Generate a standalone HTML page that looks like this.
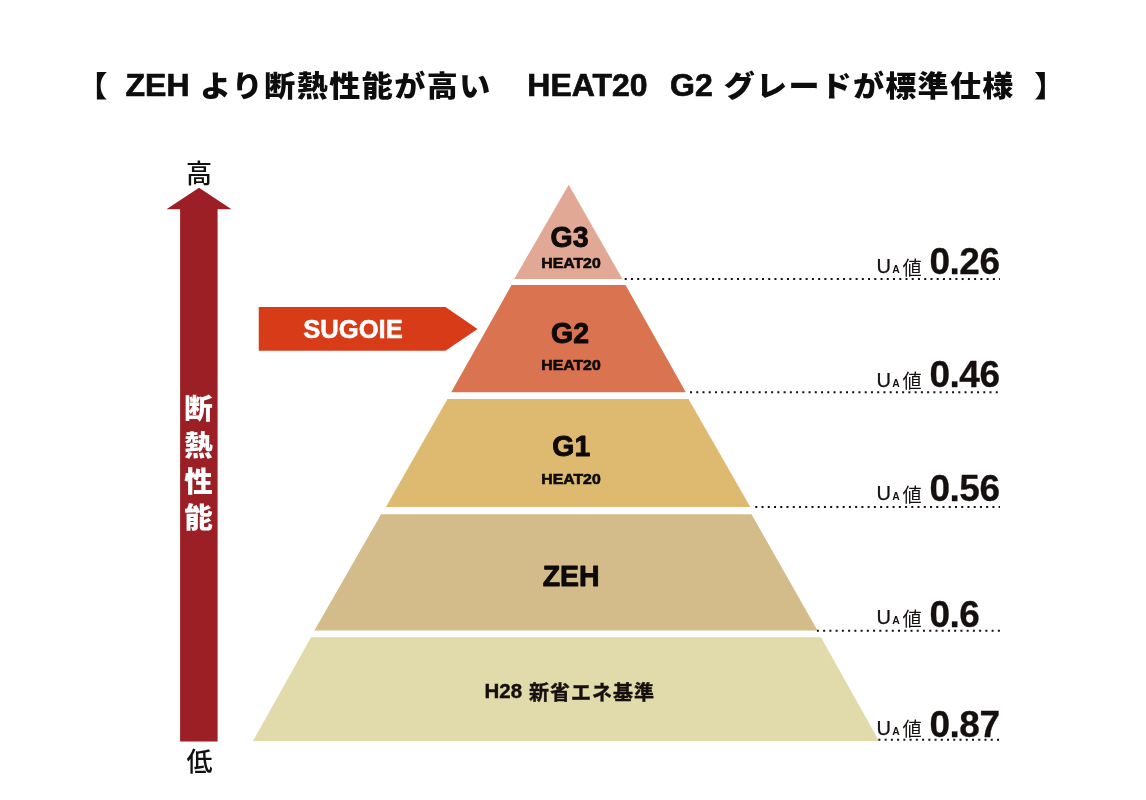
<!DOCTYPE html>
<html lang="ja">
<head>
<meta charset="utf-8">
<title>ZEH より断熱性能が高い HEAT20 G2 グレードが標準仕様</title>
<style>
html,body{margin:0;padding:0;background:#fff;}
body{width:1146px;height:800px;overflow:hidden;position:relative;}
svg{display:block;position:absolute;left:0;top:0;}
text{font-family:"Liberation Sans","Noto Sans CJK JP",sans-serif;fill:#150f0d;}
.ttl{font-weight:700;font-size:32px;fill:#0d0d0d;stroke:#0d0d0d;stroke-width:0.7px;}
.ttlb{font-weight:900;font-size:29px;fill:#0d0d0d;}
.ttlj{font-weight:900;font-size:29px;letter-spacing:1.37px;fill:#0d0d0d;}
.g{font-weight:700;font-size:30.3px;letter-spacing:0px;fill:#0e0a09;stroke:#0e0a09;stroke-width:0.9px;stroke-linejoin:round;}
.h{font-weight:700;font-size:14.5px;fill:#0e0a09;stroke:#0e0a09;stroke-width:0.6px;}
.hl{font-weight:500;font-size:26px;fill:#111;}
.v{font-weight:900;font-size:28.5px;fill:#fff;}
.sg{font-weight:700;font-size:25.6px;fill:#fff;stroke:#fff;stroke-width:0.5px;}
.u{font-weight:400;font-size:20px;stroke:#150f0d;stroke-width:0.25px;}
.a{font-weight:700;font-size:10.4px;}
.k{font-weight:400;font-size:19.2px;}
.n{font-weight:700;font-size:37px;letter-spacing:-0.5px;stroke:#150f0d;stroke-width:0.3px;}
.b{font-weight:700;font-size:20.5px;stroke:#150f0d;stroke-width:0.4px;}
.bj{font-weight:700;font-size:20px;letter-spacing:1px;stroke:#150f0d;stroke-width:0.4px;}
.dot{stroke:#111;stroke-width:2;stroke-dasharray:2 4.24;fill:none;}
</style>
</head>
<body>
<svg width="1146" height="800" viewBox="0 0 1146 800">
<rect width="1146" height="800" fill="#ffffff"/>

<!-- title -->
<text class="ttlb" transform="translate(76.4 96.5) scale(1.07 1)">【</text>
<text class="ttl" x="125.5" y="96.4">ZEH</text>
<text class="ttlj" transform="translate(200 96.5) scale(1.07 1)">より断熱性能が高い</text>
<text class="ttl" x="527.3" y="96.4">HEAT20</text>
<text class="ttl" x="670" y="96.4">G2</text>
<text class="ttlj" style="letter-spacing:1.2px" transform="translate(723.8 96.5) scale(1.07 1)">グレードが標準仕様</text>
<text class="ttlb" transform="translate(1034.3 96.5) scale(1.07 1)">】</text>

<!-- vertical arrow -->
<polygon points="199,187.8 231.5,209.2 217.6,209.2 217.6,741.5 180.1,741.5 180.1,209.2 166.5,209.2" fill="#9b1f25"/>
<text class="hl" x="199" y="183" text-anchor="middle">高</text>
<text class="hl" x="199.5" y="771" text-anchor="middle">低</text>
<text class="v" x="198.6" y="419.3" text-anchor="middle">断</text>
<text class="v" x="198.6" y="455.6" text-anchor="middle">熱</text>
<text class="v" x="198.6" y="491.9" text-anchor="middle">性</text>
<text class="v" x="198.6" y="528.2" text-anchor="middle">能</text>

<!-- SUGOIE arrow -->
<polygon points="258.75,307 445.5,307 477.5,328.9 445.5,350.75 258.75,350.75" fill="#d83b17"/>
<text class="sg" x="353" y="337.5" text-anchor="middle">SUGOIE</text>

<!-- pyramid -->
<polygon points="568.7,184.75 622.4,279 514.2,279" fill="#e1a995"/>
<polygon points="511.5,285 625.5,285 685.8,392.3 451.2,392.3" fill="#da734f"/>
<polygon points="447.5,399 688.5,399 750.3,507.1 385.9,507.1" fill="#ddba6f"/>
<polygon points="381.1,514.2 751.5,514.2 817.5,630.6 314.4,630.6" fill="#d3bb8a"/>
<polygon points="311,637.3 821,637.3 879,741 253,741" fill="#e1daaa"/>

<text class="g" transform="translate(569.6 246.9) scale(0.94 1)" text-anchor="middle">G3</text>
<text class="h" transform="translate(571.0 268.1) scale(1.09 1)" text-anchor="middle">HEAT20</text>
<text class="g" transform="translate(570.0 342.5) scale(0.94 1)" text-anchor="middle">G2</text>
<text class="h" transform="translate(571.0 370.1) scale(1.09 1)" text-anchor="middle">HEAT20</text>
<text class="g" transform="translate(571.3 456.4) scale(0.94 1)" text-anchor="middle">G1</text>
<text class="h" transform="translate(571.0 484.1) scale(1.09 1)" text-anchor="middle">HEAT20</text>
<text class="g" style="font-size:29.5px" transform="translate(571.1 586.3) scale(0.965 1)" text-anchor="middle">ZEH</text>
<text class="b" x="484.5" y="697.9">H28</text>
<text class="bj" x="529" y="699.5">新省エネ基準</text>

<!-- dotted lines -->
<path class="dot" d="M624.7 279H1000"/>
<path class="dot" d="M690 392.3H1000"/>
<path class="dot" d="M755.3 507.1H1000"/>
<path class="dot" d="M816.9 630.8H1000"/>
<path class="dot" d="M878.4 739.7H1000"/>

<!-- UA labels -->
<g>
<text class="u" x="876.5" y="273">U</text><text class="a" x="892.2" y="273">A</text><text class="k" x="902.4" y="274.9">値</text><text class="n" x="929.5" y="274">0.26</text>
</g>
<g>
<text class="u" x="876.5" y="386.5">U</text><text class="a" x="892.2" y="386.5">A</text><text class="k" x="902.4" y="387.9">値</text><text class="n" x="929.5" y="387.4">0.46</text>
</g>
<g>
<text class="u" x="876.5" y="499.7">U</text><text class="a" x="892.2" y="499.7">A</text><text class="k" x="902.4" y="501.6">値</text><text class="n" x="929.5" y="501">0.56</text>
</g>
<g>
<text class="u" x="876.5" y="624">U</text><text class="a" x="892.2" y="624">A</text><text class="k" x="902.4" y="625.9">値</text><text class="n" x="929.5" y="627">0.6</text>
</g>
<g>
<text class="u" x="876.5" y="734.8">U</text><text class="a" x="892.2" y="734.8">A</text><text class="k" x="902.4" y="736.2">値</text><text class="n" x="929.5" y="736.7">0.87</text>
</g>
</svg>
</body>
</html>
